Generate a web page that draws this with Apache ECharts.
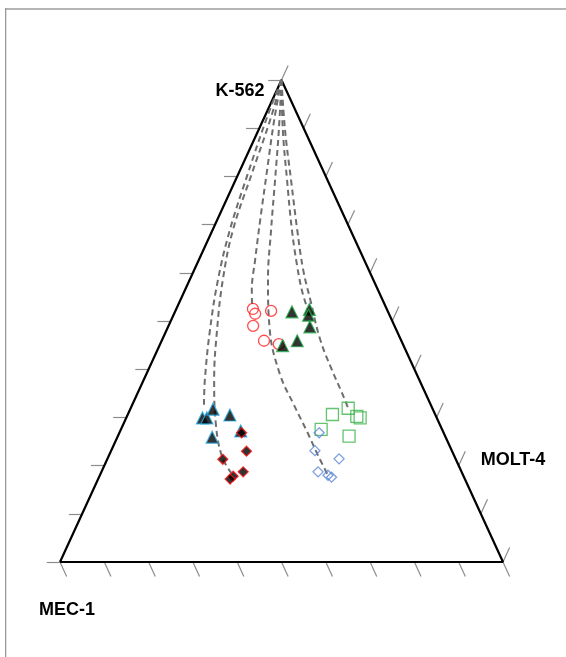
<!DOCTYPE html>
<html>
<head>
<meta charset="utf-8">
<script src="https://cdn.jsdelivr.net/npm/echarts@6/dist/echarts.min.js"></script>
<style>
html,body{margin:0;padding:0;background:#fff;}
#chart{width:566px;height:657px;}
</style>
</head>
<body>
<div id="chart"></div>
<script>
// Vertex labels
const vertexLabels = ['K-562', 'MOLT-4', 'MEC-1'];
// Tick fractions on each side
const tickFractions = [0, 0.1, 0.2, 0.3, 0.4, 0.5, 0.6, 0.7, 0.8, 0.9, 1];

// Data points as [K-562 %, MOLT-4 %, MEC-1 %]
const redCircles = [[52.5,17.3,30.2],[51.5,18.3,30.2],[49.0,19.1,31.9],[52.1,21.6,26.3],[45.9,23.1,31.0],[45.2,26.8,28.0]];
const greenTriangles = [[51.9,26.4,21.7],[52.4,30.1,17.5],[51.2,30.5,18.3],[48.8,32.0,19.2],[45.9,30.6,23.5],[44.9,27.8,27.3]];
const blueTriangles = [[29.9,17.2,52.9],[29.9,18.2,51.9],[31.7,18.7,49.6],[30.5,23.1,46.4],[25.9,21.4,52.7],[27.2,27.2,45.6]];
const redDiamonds = [[26.8,27.6,45.6],[23.0,30.6,46.4],[21.3,26.1,52.6],[18.7,32.0,49.3],[17.8,30.2,52.0],[17.2,29.8,53.0]];
const greenSquares = [[30.6,46.2,23.2],[31.9,49.1,19.0],[30.2,51.9,17.9],[29.9,52.8,17.3],[27.5,45.2,27.3],[26.1,52.2,21.7]];
const blueDiamonds = [[26.8,45.1,28.1],[23.1,46.0,30.9],[21.4,52.3,26.3],[18.7,48.9,32.4],[18.0,51.5,30.5],[17.6,52.5,29.9]];

// Trajectory curves (dashed), [K, MOLT, MEC] %
const curveBlueTri = [[100,0,0],[92.3,0.6,7.1],[80.7,2.1,17.2],[68.9,3.9,27.2],[58.5,6.4,35.1],[48.1,9.8,42.1],[37.8,13.8,48.4],[32.6,16.2,51.2]];
const curveRedDia = [[100,0,0],[92.3,1.5,6.2],[80.7,3.0,16.3],[68.9,4.6,26.5],[58.5,7.5,34.0],[48.1,11.4,40.5],[37.8,15.9,46.3],[28.4,21.0,50.6],[21.8,25.7,52.5],[18.5,29.4,52.1]];
const curveRedCirc = [[100,0,0],[91.7,2.5,5.8],[81.3,6.1,12.6],[71.0,9.7,19.3],[62.7,12.7,24.6],[56.4,15.1,28.5],[53.3,16.7,30.0]];
const curveBlueDia = [[100,0,0],[89.6,4.6,5.8],[79.3,8.9,11.8],[68.9,13.2,17.9],[58.5,17.7,23.8],[48.1,23.3,28.6],[38.8,30.3,30.9],[32.6,36.5,30.9],[27.0,42.3,30.7],[22.2,47.1,30.7],[17.6,51.9,30.5]];
const curveGreenTri = [[100,0,0],[89.6,5.5,4.9],[79.3,11.6,9.1],[68.9,17.9,13.2],[61.6,22.7,15.7],[56.4,26.4,17.2],[52.3,29.8,17.9]];
const curveGreenSq = [[100,0,0],[89.6,6.0,4.4],[79.3,12.5,8.2],[68.9,19.1,12.0],[60.6,24.6,14.8],[54.4,29.3,16.3],[46.1,35.7,18.2],[39.8,41.5,18.7],[35.1,46.1,18.8],[32.0,49.0,19.0]];

// ternary -> cartesian (MEC-1 at (0,0), MOLT-4 at (1,0), K-562 at (0.5,1))
function toXY(p) {
  const s = p[0] + p[1] + p[2];
  const k = p[0] / s, m = p[1] / s;
  return [m + k / 2, k];
}
const conv = arr => arr.map(toXY);

const tickLen = 0.03;
const tickSegs = [];
tickFractions.forEach(t => {
  const L = toXY([t, 0, 1 - t]);
  tickSegs.push({coords: [L, [L[0] - tickLen, L[1]]]});
  const B = toXY([0, t, 1 - t]);
  tickSegs.push({coords: [B, [B[0] + tickLen / 2, B[1] - tickLen]]});
  const R = toXY([t, 1 - t, 0]);
  tickSegs.push({coords: [R, [R[0] + tickLen / 2, R[1] + tickLen]]});
});

const dashStyle = {color: '#6e6e6e', width: 2, type: [6, 4]};
function curve(data) {
  return {type: 'line', data: conv(data), smooth: 0.4, symbol: 'none',
    lineStyle: dashStyle, z: 3, silent: true, clip: false};
}
function pts(data, symbol, size, fill, stroke, bw) {
  return {type: 'scatter', data: conv(data), symbol: symbol, symbolSize: size, z: 5, clip: false,
    itemStyle: {color: fill, borderColor: stroke, borderWidth: bw}};
}

const chart = echarts.init(document.getElementById('chart'));
chart.setOption({
  animation: false,
  backgroundColor: '#fff',
  grid: {left: 60, right: 63, top: 80, bottom: 95},
  xAxis: {type: 'value', min: 0, max: 1, show: false},
  yAxis: {type: 'value', min: 0, max: 1, show: false},
  graphic: [
    {type: 'rect', shape: {x: 5, y: 8, width: 561, height: 2}, style: {fill: '#b5b5b5'}},
    {type: 'rect', shape: {x: 5, y: 8, width: 1.3, height: 649}, style: {fill: '#9a9a9a'}},
    {type: 'text', x: 240, y: 91, style: {text: vertexLabels[0], font: 'bold 18px "Liberation Sans", Arial, sans-serif', fill: '#000', align: 'center', verticalAlign: 'middle'}},
    {type: 'text', x: 513, y: 460, style: {text: vertexLabels[1], font: 'bold 18px "Liberation Sans", Arial, sans-serif', fill: '#000', align: 'center', verticalAlign: 'middle'}},
    {type: 'text', x: 67, y: 610, style: {text: vertexLabels[2], font: 'bold 18px "Liberation Sans", Arial, sans-serif', fill: '#000', align: 'center', verticalAlign: 'middle'}}
  ],
  series: [
    {type: 'lines', coordinateSystem: 'cartesian2d', data: tickSegs, silent: true, z: 1, clip: false,
      lineStyle: {color: '#8c8c8c', width: 1.2, opacity: 1}},
    {type: 'line', data: conv([[0,0,100],[0,100,0],[100,0,0],[0,0,100]]), symbol: 'none', z: 2, silent: true, clip: false,
      lineStyle: {color: '#000', width: 2.2}},
    curve(curveBlueTri), curve(curveRedDia), curve(curveRedCirc),
    curve(curveBlueDia), curve(curveGreenTri), curve(curveGreenSq),
    pts(redCircles, 'circle', 11, 'rgba(255,255,255,0)', '#ff2020', 1.3),
    pts(greenSquares, 'rect', 12, 'rgba(255,255,255,0)', '#3cb44b', 1.3),
    pts(blueDiamonds, 'diamond', 10, 'rgba(255,255,255,0)', '#5a86d8', 1.3),
    pts(greenTriangles, 'triangle', 12, '#000', '#22b14c', 1.2),
    pts(blueTriangles, 'triangle', 12, '#000', '#27a9e1', 1.2),
    pts(redDiamonds, 'diamond', 10, '#000', '#ff1010', 1.3)
  ]
});
</script>
</body>
</html>
